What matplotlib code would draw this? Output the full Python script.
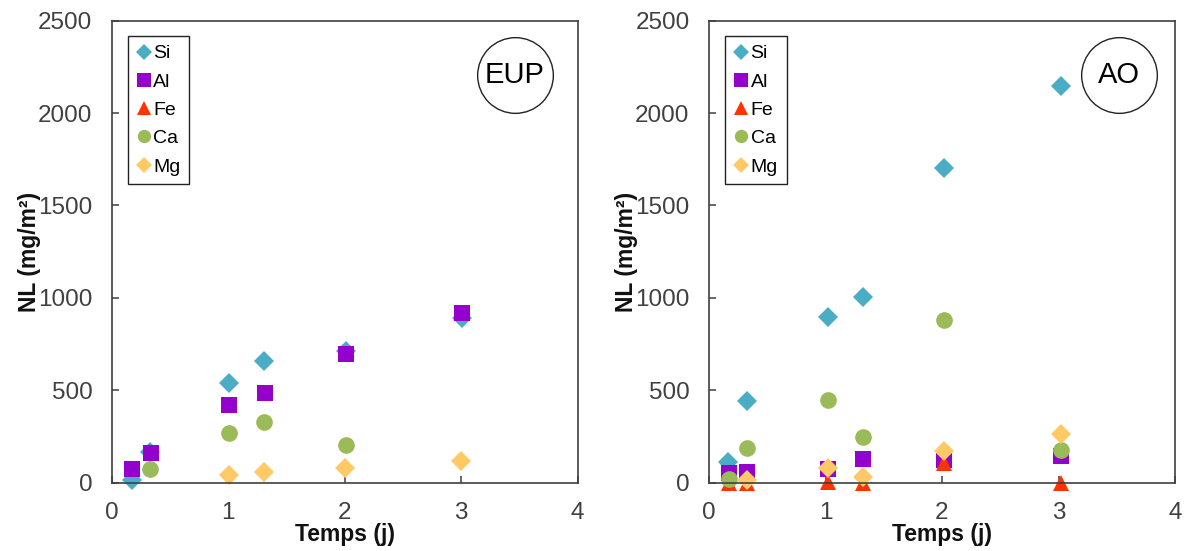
import matplotlib
matplotlib.use("Agg")
import matplotlib.pyplot as plt

plt.rcParams['font.family'] = ['Liberation Sans', 'DejaVu Sans']

# Datos EUP
eup_si_t = [0.17, 0.33, 1.01, 1.31, 2.01, 3.01]
eup_si = [15, 165, 539, 656, 711, 891]
eup_al_t = [0.17, 0.34, 1.01, 1.32, 2.01, 3.01]
eup_al = [74, 163, 421, 488, 696, 918]
eup_fe_t = []
eup_fe = []
eup_ca_t = [0.33, 1.01, 1.31, 2.01]
eup_ca = [74, 271, 331, 204]
eup_mg_t = [1.01, 1.31, 2.0, 3.0]
eup_mg = [42, 60, 78, 119]

# Datos AO
ao_si_t = [0.16, 0.33, 1.02, 1.32, 2.02, 3.02]
ao_si = [114, 443, 895, 1003, 1703, 2147]
ao_al_t = [0.17, 0.33, 1.02, 1.32, 2.02, 3.02]
ao_al = [50, 56, 73, 126, 122, 145]
ao_fe_t = [0.17, 0.33, 1.02, 1.32, 2.02, 3.02]
ao_fe = [0, 0, 5, -3, 108, 0]
ao_ca_t = [0.17, 0.33, 1.02, 1.32, 2.02, 3.02]
ao_ca = [18, 187, 445, 250, 878, 177]
ao_mg_t = [0.33, 1.02, 1.32, 2.02, 3.02]
ao_mg = [15, 78, 33, 172, 264]

elements = ['Si', 'Al', 'Fe', 'Ca', 'Mg']
colores = ['#4BACC6', '#9400CC', '#FF3300', '#9BBB59', '#FFC966']
marcadores = ['D', 's', '^', 'o', 'D']
tamanos = [9.8, 12, 12, 12, 9.8]

paneles = [
    ('EUP', [(eup_si_t, eup_si), (eup_al_t, eup_al), (eup_fe_t, eup_fe),
             (eup_ca_t, eup_ca), (eup_mg_t, eup_mg)]),
    ('AO', [(ao_si_t, ao_si), (ao_al_t, ao_al), (ao_fe_t, ao_fe),
            (ao_ca_t, ao_ca), (ao_mg_t, ao_mg)]),
]

fig = plt.figure(figsize=(11.84, 5.51), dpi=100)
lefts = [111.7 / 1184, 709 / 1184]
gris = '#404040'

for i, (nombre, series) in enumerate(paneles):
    ax = fig.add_axes([lefts[i], 1 - 482.7 / 551, 466 / 1184, 462 / 551])
    for (t, v), el, c, m, s in zip(series, elements, colores, marcadores, tamanos):
        ax.plot(t, v, linestyle='none', marker=m, markersize=s, color=c,
                markeredgewidth=0, label=el, clip_on=False)

    ax.set_xlim(0, 4)
    ax.set_ylim(0, 2500)
    ax.set_xticks([0, 1, 2, 3, 4])
    ax.set_yticks([0, 500, 1000, 1500, 2000, 2500])
    ax.tick_params(direction='in', length=5, width=1.1, color=gris,
                   labelsize=17.5, labelcolor=gris, pad=14)
    for sp in ax.spines.values():
        sp.set_color(gris)
        sp.set_linewidth(1.2)

    ax.set_xlabel('Temps (j)', fontsize=16.5, fontweight='bold', color='#111111')
    ax.xaxis.set_label_coords(0.5, -0.088)
    ax.set_ylabel('NL (mg/m²)', fontsize=16.5, fontweight='bold', color='#111111')
    ax.yaxis.set_label_coords(-0.152, 0.5)

    leg = ax.legend(loc='upper left', bbox_to_anchor=(0.035, 0.967),
                    borderaxespad=0, fancybox=False, framealpha=1,
                    edgecolor='#222222', fontsize=14, markerscale=0.8,
                    handlelength=0.7, handletextpad=0.15, labelspacing=0.55,
                    borderpad=0.45)
    leg.get_frame().set_linewidth(1.0)

    cx = 0.8655 if nombre == 'EUP' else 0.88
    ax.plot([cx], [0.882], marker='o', markersize=54.5, markerfacecolor='white',
            markeredgecolor='#222222', markeredgewidth=1.0,
            transform=ax.transAxes, clip_on=False)
    ax.text(cx, 0.882, nombre, transform=ax.transAxes, ha='center', va='center',
            fontsize=21, color='black')

fig.savefig('out.png', dpi=100)
